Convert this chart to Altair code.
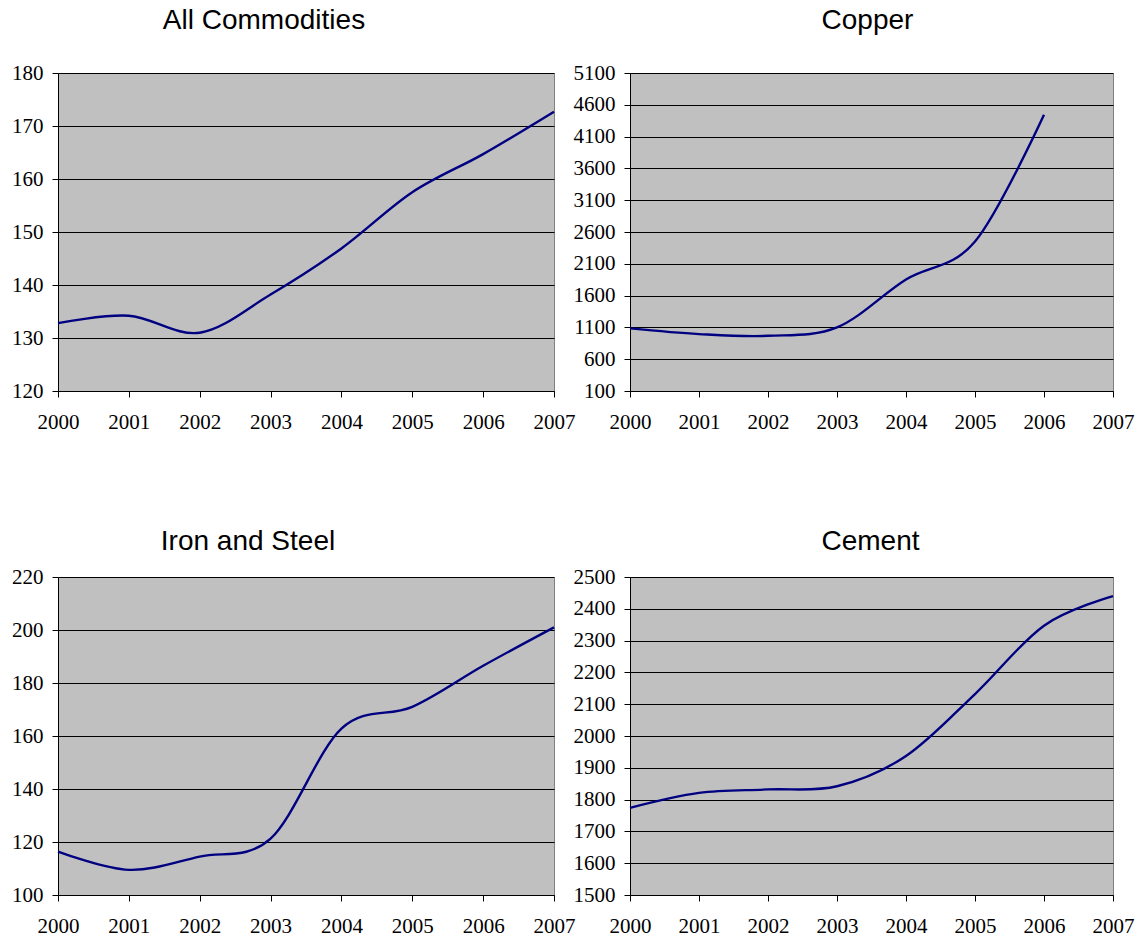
import altair as alt
import pandas as pd

years = [2000, 2001, 2002, 2003, 2004, 2005, 2006, 2007]
all_commodities = [132.8, 134.2, 131.0, 138.2, 146.9, 157.5, 164.7, 172.7]
copper_years = [2000, 2001, 2002, 2003, 2004, 2005, 2006]
copper = [1084, 995, 968, 1100, 1853, 2450, 4442]
iron_steel = [116.4, 109.5, 114.5, 121.3, 162.8, 171.0, 186.5, 201.0]
cement = [1774, 1821, 1832, 1842, 1937, 2132, 2347, 2440]

titles = ["All Commodities", "Copper", "Iron and Steel", "Cement"]
y_domains = [[120, 180], [100, 5100], [100, 220], [1500, 2500]]
y_ticks = [
    [120, 130, 140, 150, 160, 170, 180],
    [100, 600, 1100, 1600, 2100, 2600, 3100, 3600, 4100, 4600, 5100],
    [100, 120, 140, 160, 180, 200, 220],
    [1500, 1600, 1700, 1800, 1900, 2000, 2100, 2200, 2300, 2400, 2500],
]

LABEL_FONT = "Liberation Serif"


def panel(xs, ys, title, domain, ticks, width, dx, dy):
    df = pd.DataFrame({"year": xs, "value": ys})
    t = alt.TitleParams(
        title, dx=dx, dy=dy, anchor="middle", frame="group",
        baseline="alphabetic", offset=5, font="Liberation Sans", fontSize=28,
        fontWeight="normal", color="black",
    )
    return (
        alt.Chart(df, title=t)
        .mark_line(color="#000080", strokeWidth=2.4, interpolate="cardinal")
        .encode(
            x=alt.X(
                "year:Q",
                scale=alt.Scale(domain=[2000, 2007], nice=False, zero=False),
                axis=alt.Axis(values=years, format="d", title=None, grid=False,
                              labelPadding=14, tickSize=6, labelFlush=False,
                              labelOverlap=False, labelFont=LABEL_FONT,
                              labelFontSize=21, labelColor="black",
                              domainColor="black", tickColor="black"),
            ),
            y=alt.Y(
                "value:Q",
                scale=alt.Scale(domain=domain, nice=False, zero=False),
                axis=alt.Axis(values=ticks, format="d", title=None, grid=True,
                              gridColor="black", labelPadding=9, tickSize=6,
                              minExtent=47, maxExtent=47, labelFlush=False,
                              labelOverlap=False, labelFont=LABEL_FONT,
                              labelFontSize=21, labelColor="black",
                              domainColor="black", tickColor="black"),
            ),
        )
        .properties(width=width, height=318)
    )


p1 = panel(years, all_commodities, titles[0], y_domains[0], y_ticks[0], 496, -42, 0)
p2 = panel(copper_years, copper, titles[1], y_domains[1], y_ticks[1], 483, -4, 0)
p3 = panel(years, iron_steel, titles[2], y_domains[2], y_ticks[2], 496, -58, 17)
p4 = panel(years, cement, titles[3], y_domains[3], y_ticks[3], 483, -1, 17)

chart = (
    alt.concat(p1, p2, p3, p4, columns=2, spacing={"row": 186, "column": 76},
               bounds="flush")
    .configure_axis(domainWidth=1, tickWidth=1, gridWidth=1)
    .configure_view(fill="#C0C0C0", stroke="#808080", strokeWidth=1)
    .properties(padding={"left": 10, "top": 6, "right": 5, "bottom": 5},
                background="white")
)

chart.save("out.html", embed_options={"renderer": "svg", "actions": False})
